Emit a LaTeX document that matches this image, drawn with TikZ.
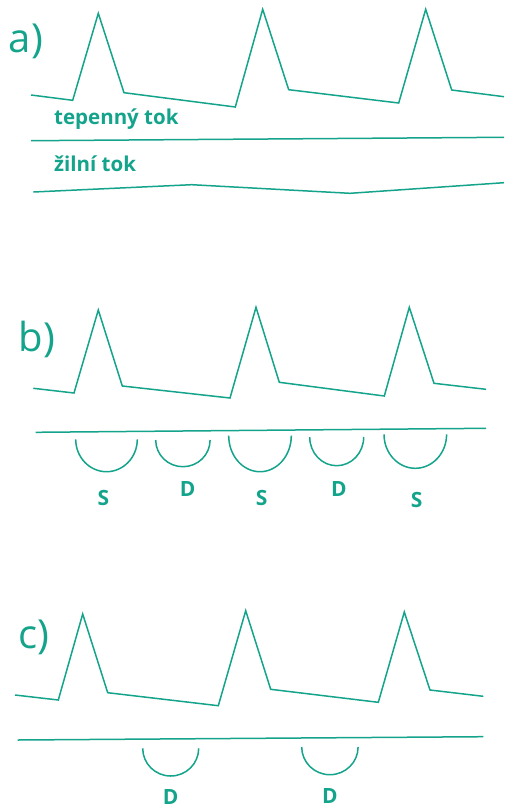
\documentclass[tikz,border=0pt]{standalone}
\usepackage{fontspec}
\setmainfont{Open Sans}
\usepackage{xcolor}
\definecolor{PulseTeal}{HTML}{14A38B}

\tikzset{
  wave/.style={PulseTeal,line width=1.5pt,line join=miter},
  panel/.style={PulseTeal,inner sep=0pt,font=\fontsize{40}{40}\selectfont},
  flowlabel/.style={PulseTeal,inner sep=0pt,anchor=base west,font=\fontsize{20.5}{20.5}\selectfont\bfseries},
  phase/.style={PulseTeal,inner sep=0pt,font=\fontsize{21}{21}\selectfont\bfseries},
}

\begin{document}
\begin{tikzpicture}[x=1pt,y=-1pt]
\path[use as bounding box] (0,0) rectangle (504,809);
% a) arterial and venous flow
\node[panel] (pa) at (26,41) {a)};
\draw[wave] (31,95) -- (72.7,100.3) -- (98.3,13.3) -- (124,92.7) -- (235.3,107) -- (262.7,9.3) -- (288.7,89.7) -- (398.7,103) -- (425.7,9.3) -- (451.7,90) -- (504,96.7);
\node[flowlabel] (art) at (54,124) {tepenný tok};
\draw[wave] (31,140.7) -- (504,137.3);
\node[flowlabel] (ven) at (54,171) {žilní tok};
\draw[wave] (33.3,192) -- (191.7,184.7) -- (350,193.3) -- (504,182.7);
% b)
\node[panel] (pb) at (37,339) {b)};
\draw[wave] (33.3,388.3) -- (74,393) -- (98.3,310) -- (122.3,386) -- (230,398) -- (256,307.3) -- (279.3,382.3) -- (384.3,396) -- (409.3,307.3) -- (434,383.3) -- (486,389.3);
\draw[wave] (35.7,432.3) -- (486,428.3);
\draw[wave] (75.7,439.3) arc[start angle=180,end angle=0,x radius=30.8,y radius=32.4];
\draw[wave] (155.7,440) arc[start angle=180,end angle=0,x radius=27.2,y radius=26.7];
\draw[wave] (228.7,435.7) arc[start angle=180,end angle=0,x radius=31.3,y radius=36];
\draw[wave] (309.7,437) arc[start angle=180,end angle=0,x radius=27,y radius=28.7];
\draw[wave] (384,434.3) arc[start angle=180,end angle=0,x radius=31.3,y radius=34];
\node[phase] (s1) at (103.3,498.3) {S};
\node[phase] (d1) at (187.7,489) {D};
\node[phase] (s2) at (261.7,498.3) {S};
\node[phase] (d2) at (339,489) {D};
\node[phase] (s3) at (416.7,500) {S};
% c)
\node[panel] (pc) at (34,637) {c)};
\draw[wave] (15,695) -- (58.3,700) -- (82.7,614) -- (107.7,692.7) -- (218.3,705.7) -- (245.7,610.7) -- (270.7,689.3) -- (378.3,702.3) -- (404.3,612) -- (430,690) -- (483.3,696.3);
\draw[wave] (17.7,740) -- (483.3,736.7);
\draw[wave] (142.7,748.3) arc[start angle=180,end angle=0,x radius=28,y radius=27.7];
\draw[wave] (301.7,747) arc[start angle=180,end angle=0,x radius=28.2,y radius=27.7];
\node[phase] (d3) at (170.7,796.5) {D};
\node[phase] (d4) at (330,796) {D};
\end{tikzpicture}
\end{document}
